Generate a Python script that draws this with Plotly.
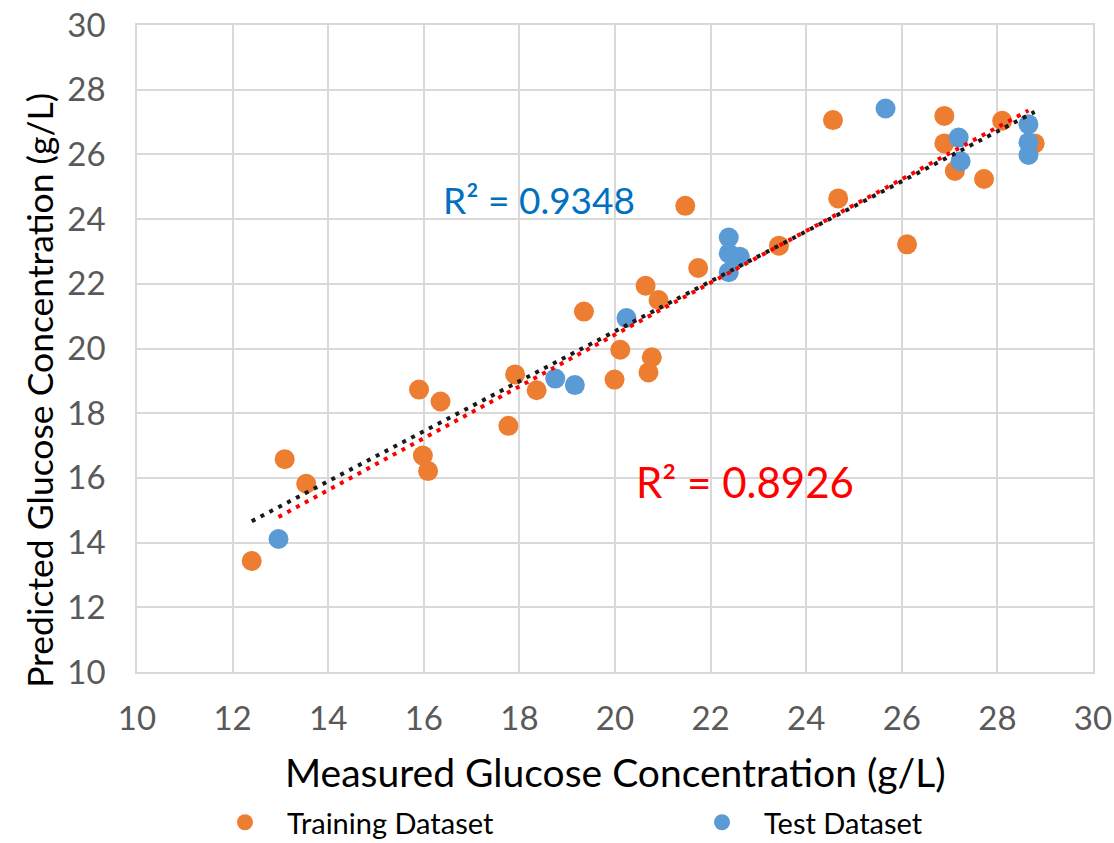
import numpy as np
import plotly.graph_objects as go

# Training dataset (orange)
train_measured = [12.40, 13.09, 13.54, 15.90, 16.35, 15.98, 16.09, 17.77, 17.91, 18.36,
                  19.35, 20.11, 19.99, 20.77, 20.70, 20.64, 20.91, 21.47, 21.74, 23.43,
                  24.56, 24.67, 26.11, 26.89, 26.89, 27.11, 27.72, 28.10, 28.78]
train_predicted = [13.43, 16.58, 15.82, 18.73, 18.36, 16.69, 16.21, 17.61, 19.20, 18.71,
                   21.14, 19.96, 19.04, 19.73, 19.26, 21.94, 21.50, 24.41, 22.49, 23.18,
                   27.06, 24.64, 23.22, 27.19, 26.34, 25.49, 25.24, 27.04, 26.34]

# Test dataset (blue)
test_measured = [12.96, 18.75, 19.16, 20.24, 22.38, 22.38, 22.61, 22.38, 25.66, 27.19,
                 27.23, 28.65, 28.65, 28.65]
test_predicted = [14.11, 19.07, 18.87, 20.94, 23.43, 22.94, 22.84, 22.36, 27.42, 26.52,
                  25.79, 26.93, 26.37, 25.98]

r2_labels = ["R² = 0.9348", "R² = 0.8926"]
axis_ticks = [10, 12, 14, 16, 18, 20, 22, 24, 26, 28, 30]

FONT = "Lato"


def trend(xs, ys):
    xs = np.asarray(xs, float)
    ys = np.asarray(ys, float)
    m, b = np.polyfit(xs, ys, 1)
    xe = np.array([xs.min(), xs.max()])
    return xe, m * xe + b


fig = go.Figure()
fig.add_trace(go.Scatter(x=train_measured, y=train_predicted, mode="markers",
                         name="Training Dataset", legend="legend",
                         marker=dict(color="#ED7D31", size=20)))
fig.add_trace(go.Scatter(x=test_measured, y=test_predicted, mode="markers",
                         name="Test Dataset", legend="legend2",
                         marker=dict(color="#5B9BD5", size=20)))

tx, ty = trend(train_measured, train_predicted)
fig.add_trace(go.Scatter(x=tx, y=ty, mode="lines", showlegend=False, hoverinfo="skip",
                         line=dict(color="#1A1A1A", width=4, dash="4px,6px")))
sx, sy = trend(test_measured, test_predicted)
fig.add_trace(go.Scatter(x=sx, y=sy, mode="lines", showlegend=False, hoverinfo="skip",
                         line=dict(color="#FF0000", width=4, dash="4px,6px")))

axis_common = dict(range=[10, 30], tickvals=axis_ticks, ticktext=[str(t) for t in axis_ticks],
                   showgrid=True, gridcolor="#D9D9D9", gridwidth=1.5,
                   showline=True, linecolor="#D9D9D9", linewidth=1.5, mirror=True,
                   zeroline=False, ticks="",
                   tickfont=dict(family=FONT, size=33, color="#595959"))

legend_common = dict(orientation="h", yanchor="top", y=-0.193, xanchor="left",
                     itemwidth=74,
                     font=dict(family=FONT, size=29, color="#000000"),
                     bgcolor="rgba(0,0,0,0)")

fig.update_layout(
    width=1114, height=843,
    margin=dict(l=137, r=21, t=25, b=171, autoexpand=False),
    plot_bgcolor="white", paper_bgcolor="white",
    xaxis=dict(**axis_common, ticklabelstandoff=17),
    yaxis=dict(**axis_common, ticklabelstandoff=23),
    showlegend=True,
    legend=dict(**legend_common, x=0.069),
    legend2=dict(**legend_common, x=0.568),
    annotations=[
        dict(text="Measured Glucose Concentration (g/L)", xref="paper", yref="paper",
             x=0.5, y=-0.155, xanchor="center", yanchor="middle", showarrow=False,
             font=dict(family=FONT, size=39, color="#000000")),
        dict(text="Predicted Glucose Concentration (g/L)", xref="paper", yref="paper",
             x=-0.1015, y=0.436, xanchor="center", yanchor="middle", showarrow=False,
             textangle=-90, font=dict(family=FONT, size=35.5, color="#000000")),
        dict(text=r2_labels[0], x=18.42, y=24.62, xref="x", yref="y",
             xanchor="center", yanchor="middle", showarrow=False,
             font=dict(family=FONT, size=37, color="#0070C0")),
        dict(text=r2_labels[1], x=22.73, y=15.87, xref="x", yref="y",
             xanchor="center", yanchor="middle", showarrow=False,
             font=dict(family=FONT, size=42, color="#FF0000")),
    ],
)

fig.write_html("out.html")
